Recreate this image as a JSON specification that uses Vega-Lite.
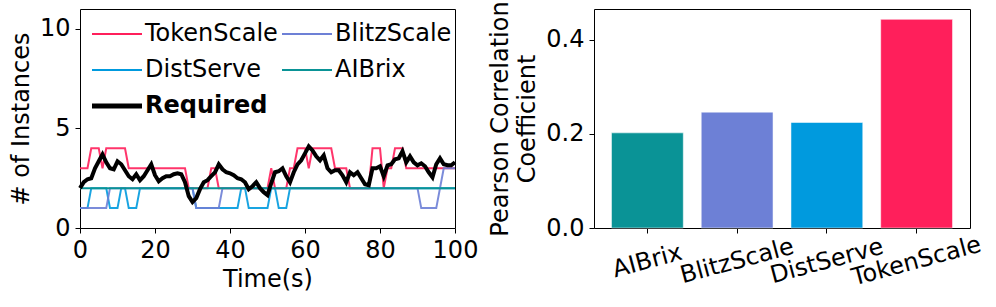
{
  "$schema": "https://vega.github.io/schema/vega-lite/v6.json",
  "padding": {"left": 8, "top": 0, "right": 0, "bottom": 0},
  "bounds": "flush",
  "spacing": 139,
  "config": {
    "font": "DejaVu Sans",
    "view": {"stroke": "black", "strokeWidth": 1},
    "axis": {
      "labelFont": "DejaVu Sans", "titleFont": "DejaVu Sans",
      "labelFontSize": 24, "titleFontSize": 24, "titleFontWeight": "normal",
      "labelColor": "black", "titleColor": "black", "tickColor": "black",
      "tickSize": 5, "labelPadding": 5, "domain": false, "grid": false, "labelFlush": false
    },
    "axisY": {"titlePadding": 6},
    "axisX": {"titlePadding": 5}
  },
  "resolve": {"scale": {"color": "independent", "x": "independent", "y": "independent"}, "legend": {"color": "independent"}},
  "datasets": {
    "lines": [
      {"s":"DistServe","t":0,"v":1},{"s":"DistServe","t":2,"v":1},{"s":"DistServe","t":3,"v":2},{"s":"DistServe","t":7,"v":2},{"s":"DistServe","t":8,"v":1},{"s":"DistServe","t":10,"v":1},{"s":"DistServe","t":11,"v":2},{"s":"DistServe","t":12,"v":2},{"s":"DistServe","t":13,"v":1},{"s":"DistServe","t":15,"v":1},{"s":"DistServe","t":16,"v":2},{"s":"DistServe","t":30,"v":2},{"s":"DistServe","t":31,"v":1},{"s":"DistServe","t":42,"v":1},{"s":"DistServe","t":43,"v":2},{"s":"DistServe","t":44,"v":2},{"s":"DistServe","t":45,"v":1},{"s":"DistServe","t":50,"v":1},{"s":"DistServe","t":51,"v":2},{"s":"DistServe","t":52,"v":2},{"s":"DistServe","t":53,"v":1},{"s":"DistServe","t":55,"v":1},{"s":"DistServe","t":56,"v":2},{"s":"DistServe","t":100,"v":2},
      {"s":"TokenScale","t":0,"v":3},{"s":"TokenScale","t":2,"v":3},{"s":"TokenScale","t":3,"v":4},{"s":"TokenScale","t":5,"v":4},{"s":"TokenScale","t":6,"v":3},{"s":"TokenScale","t":7,"v":4},{"s":"TokenScale","t":12,"v":4},{"s":"TokenScale","t":13,"v":3},{"s":"TokenScale","t":28,"v":3},{"s":"TokenScale","t":29,"v":2},{"s":"TokenScale","t":34,"v":2},{"s":"TokenScale","t":35,"v":3},{"s":"TokenScale","t":36,"v":3},{"s":"TokenScale","t":37,"v":2},{"s":"TokenScale","t":50,"v":2},{"s":"TokenScale","t":51,"v":3},{"s":"TokenScale","t":52,"v":2},{"s":"TokenScale","t":55,"v":2},{"s":"TokenScale","t":56,"v":3},{"s":"TokenScale","t":57,"v":3},{"s":"TokenScale","t":58,"v":4},{"s":"TokenScale","t":60,"v":4},{"s":"TokenScale","t":61,"v":3},{"s":"TokenScale","t":62,"v":4},{"s":"TokenScale","t":67,"v":4},{"s":"TokenScale","t":68,"v":3},{"s":"TokenScale","t":71,"v":3},{"s":"TokenScale","t":72,"v":2},{"s":"TokenScale","t":77,"v":2},{"s":"TokenScale","t":78,"v":4},{"s":"TokenScale","t":80,"v":4},{"s":"TokenScale","t":81,"v":2},{"s":"TokenScale","t":82,"v":3},{"s":"TokenScale","t":83,"v":3},{"s":"TokenScale","t":84,"v":4},{"s":"TokenScale","t":86,"v":4},{"s":"TokenScale","t":87,"v":3},{"s":"TokenScale","t":100,"v":3},
      {"s":"BlitzScale","t":0,"v":1},{"s":"BlitzScale","t":7,"v":1},{"s":"BlitzScale","t":8,"v":2},{"s":"BlitzScale","t":30,"v":2},{"s":"BlitzScale","t":31,"v":1},{"s":"BlitzScale","t":37,"v":1},{"s":"BlitzScale","t":38,"v":2},{"s":"BlitzScale","t":90,"v":2},{"s":"BlitzScale","t":91,"v":1},{"s":"BlitzScale","t":95,"v":1},{"s":"BlitzScale","t":96,"v":2},{"s":"BlitzScale","t":97,"v":3},{"s":"BlitzScale","t":100,"v":3},
      {"s":"AIBrix","t":0,"v":2},{"s":"AIBrix","t":100,"v":2},
      {"s":"Required","t":0,"v":2.0},{"s":"Required","t":1,"v":2.3},{"s":"Required","t":2,"v":2.45},{"s":"Required","t":3,"v":2.5},{"s":"Required","t":4,"v":3.0},{"s":"Required","t":5,"v":3.35},{"s":"Required","t":6,"v":3.7},{"s":"Required","t":7,"v":3.3},{"s":"Required","t":8,"v":3.0},{"s":"Required","t":9,"v":2.95},
      {"s":"Required","t":10,"v":3.35},{"s":"Required","t":11,"v":3.2},{"s":"Required","t":12,"v":2.9},{"s":"Required","t":13,"v":2.6},{"s":"Required","t":14,"v":2.45},{"s":"Required","t":15,"v":2.7},{"s":"Required","t":16,"v":2.4},{"s":"Required","t":17,"v":2.6},{"s":"Required","t":18,"v":2.9},{"s":"Required","t":19,"v":3.2},
      {"s":"Required","t":20,"v":2.65},{"s":"Required","t":21,"v":2.35},{"s":"Required","t":22,"v":2.5},{"s":"Required","t":23,"v":2.6},{"s":"Required","t":24,"v":2.6},{"s":"Required","t":25,"v":2.7},{"s":"Required","t":26,"v":2.75},{"s":"Required","t":27,"v":2.7},{"s":"Required","t":28,"v":2.3},{"s":"Required","t":29,"v":1.6},
      {"s":"Required","t":30,"v":1.3},{"s":"Required","t":31,"v":1.5},{"s":"Required","t":32,"v":1.95},{"s":"Required","t":33,"v":2.3},{"s":"Required","t":34,"v":2.4},{"s":"Required","t":35,"v":2.6},{"s":"Required","t":36,"v":2.8},{"s":"Required","t":37,"v":3.2},{"s":"Required","t":38,"v":2.95},{"s":"Required","t":39,"v":2.8},
      {"s":"Required","t":40,"v":2.75},{"s":"Required","t":41,"v":2.65},{"s":"Required","t":42,"v":2.5},{"s":"Required","t":43,"v":2.45},{"s":"Required","t":44,"v":2.3},{"s":"Required","t":45,"v":1.95},{"s":"Required","t":46,"v":2.1},{"s":"Required","t":47,"v":2.3},{"s":"Required","t":48,"v":2.0},{"s":"Required","t":49,"v":1.8},
      {"s":"Required","t":50,"v":1.65},{"s":"Required","t":51,"v":2.25},{"s":"Required","t":52,"v":2.8},{"s":"Required","t":53,"v":2.85},{"s":"Required","t":54,"v":3.0},{"s":"Required","t":55,"v":2.6},{"s":"Required","t":56,"v":2.3},{"s":"Required","t":57,"v":2.8},{"s":"Required","t":58,"v":3.2},{"s":"Required","t":59,"v":3.4},
      {"s":"Required","t":60,"v":3.75},{"s":"Required","t":61,"v":4.1},{"s":"Required","t":62,"v":3.9},{"s":"Required","t":63,"v":3.6},{"s":"Required","t":64,"v":3.4},{"s":"Required","t":65,"v":3.65},{"s":"Required","t":66,"v":3.0},{"s":"Required","t":67,"v":2.8},{"s":"Required","t":68,"v":2.9},{"s":"Required","t":69,"v":2.9},
      {"s":"Required","t":70,"v":2.65},{"s":"Required","t":71,"v":2.3},{"s":"Required","t":72,"v":2.8},{"s":"Required","t":73,"v":2.65},{"s":"Required","t":74,"v":2.8},{"s":"Required","t":75,"v":2.5},{"s":"Required","t":76,"v":2.2},{"s":"Required","t":77,"v":2.15},{"s":"Required","t":78,"v":3.0},{"s":"Required","t":79,"v":3.0},
      {"s":"Required","t":80,"v":3.1},{"s":"Required","t":81,"v":2.6},{"s":"Required","t":82,"v":3.15},{"s":"Required","t":83,"v":3.2},{"s":"Required","t":84,"v":3.45},{"s":"Required","t":85,"v":3.5},{"s":"Required","t":86,"v":3.85},{"s":"Required","t":87,"v":3.3},{"s":"Required","t":88,"v":3.6},{"s":"Required","t":89,"v":3.3},
      {"s":"Required","t":90,"v":3.15},{"s":"Required","t":91,"v":3.25},{"s":"Required","t":92,"v":3.1},{"s":"Required","t":93,"v":2.8},{"s":"Required","t":94,"v":2.55},{"s":"Required","t":95,"v":3.2},{"s":"Required","t":96,"v":3.5},{"s":"Required","t":97,"v":3.2},{"s":"Required","t":98,"v":3.15},{"s":"Required","t":99,"v":3.15},
      {"s":"Required","t":100,"v":3.3}
    ],
    "bars": [
      {"m":"AIBrix","r":0.202},
      {"m":"BlitzScale","r":0.246},
      {"m":"DistServe","r":0.224},
      {"m":"TokenScale","r":0.443}
    ]
  },
  "hconcat": [
    {
      "width": 375,
      "height": 219,
      "data": {"name": "lines"},
      "encoding": {
        "x": {"field": "t", "type": "quantitative", "scale": {"domain": [0, 100], "nice": false},
              "axis": {"values": [0, 20, 40, 60, 80, 100], "title": "Time(s)"}},
        "y": {"field": "v", "type": "quantitative", "scale": {"domain": [0, 11], "nice": false},
              "axis": {"values": [0, 5, 10], "title": "# of Instances"}},
        "color": {"field": "s", "type": "nominal",
          "scale": {"domain": ["TokenScale", "BlitzScale", "DistServe", "AIBrix", "Required"],
                    "range": ["#ff1f5b", "#6d80d6", "#009ade", "#0a9396", "#000000"]},
          "legend": {
            "title": null, "orient": "none", "legendX": 12, "legendY": 13, "columns": 2, "direction": "horizontal",
            "symbolType": "stroke", "symbolSize": 2500, "symbolStrokeWidth": 2, "symbolOffset": 13,
            "labelFont": "DejaVu Sans", "labelFontSize": 24, "labelColor": "black", "labelLimit": 400,
            "labelOffset": 16, "columnPadding": 0, "rowPadding": 12, "padding": 0,
            "encode": {
              "labels": {"update": {"fontWeight": {"signal": "datum.value === 'Required' ? 'bold' : 'normal'"}}},
              "symbols": {"update": {"strokeWidth": {"signal": "datum.value === 'Required' ? 5 : 2"}}}
            }
          }
        }
      },
      "layer": [
        {"transform": [{"filter": "datum.s === 'DistServe'"}], "mark": {"type": "line", "strokeWidth": 2, "opacity": 0.9}},
        {"transform": [{"filter": "datum.s === 'TokenScale'"}], "mark": {"type": "line", "strokeWidth": 2, "opacity": 0.9}},
        {"transform": [{"filter": "datum.s === 'BlitzScale'"}], "mark": {"type": "line", "strokeWidth": 2, "opacity": 0.9}},
        {"transform": [{"filter": "datum.s === 'AIBrix'"}], "mark": {"type": "line", "strokeWidth": 2}},
        {"transform": [{"filter": "datum.s === 'Required'"}], "mark": {"type": "line", "strokeWidth": 4}}
      ]
    },
    {
      "width": 376,
      "height": 219,
      "data": {"name": "bars"},
      "mark": {"type": "bar", "stroke": "white", "strokeWidth": 1, "strokeOpacity": 0.5},
      "encoding": {
        "x": {"field": "m", "type": "nominal", "sort": null,
              "scale": {"paddingInner": 0.2, "paddingOuter": 0.195},
              "axis": {"title": null, "labelAngle": -15, "labelAlign": "center", "labelBaseline": "middle", "labelPadding": 28}},
        "y": {"field": "r", "type": "quantitative", "scale": {"domain": [0, 0.465], "nice": false},
              "axis": {"values": [0, 0.2, 0.4], "format": ".1f", "title": ["Pearson Correlation", "Coefficient"], "titleLineHeight": 27}},
        "color": {"field": "m", "type": "nominal",
                  "scale": {"domain": ["AIBrix", "BlitzScale", "DistServe", "TokenScale"],
                            "range": ["#0a9396", "#6d80d6", "#009ade", "#ff1f5b"]},
                  "legend": null}
      }
    }
  ]
}
